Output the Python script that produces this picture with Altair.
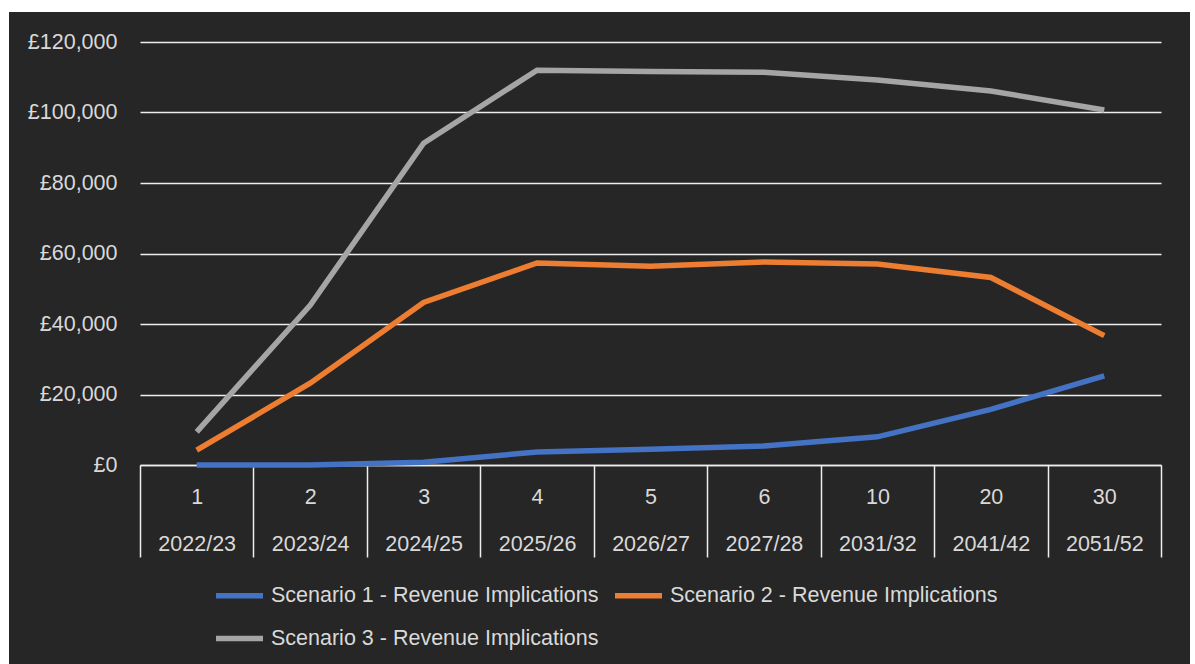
import altair as alt
import pandas as pd

periods = ["1", "2", "3", "4", "5", "6", "10", "20", "30"]
years = ["2022/23", "2023/24", "2024/25", "2025/26", "2026/27", "2027/28", "2031/32", "2041/42", "2051/52"]
series_names = [
    "Scenario 1 - Revenue Implications",
    "Scenario 2 - Revenue Implications",
    "Scenario 3 - Revenue Implications",
]
s1 = [0, 0, 800, 3700, 4500, 5400, 8000, 15800, 25300]
s2 = [4200, 23200, 46100, 57300, 56400, 57600, 57000, 53200, 36700]
s3 = [9400, 45300, 91300, 112000, 111600, 111400, 109200, 106100, 100700]
colors = ["#4472C4", "#ED7D31", "#A5A5A5"]
y_ticks = [0, 20000, 40000, 60000, 80000, 100000, 120000]

cats = [f"{p}|{y}" for p, y in zip(periods, years)]
rows = []
for name, vals in zip(series_names, [s1, s2, s3]):
    for c, v in zip(cats, vals):
        rows.append({"cat": c, "series": name, "value": v})
df = pd.DataFrame(rows)

W, H = 1021, 423
PL, PT, PR, PB = 140, 42, 34, 199
TXT = "#d9d9d9"
LINEC = "#eeeeee"
FS = 21.5

lines = alt.Chart(df).mark_line(strokeWidth=5.5).encode(
    x=alt.X(
        "cat:N",
        sort=cats,
        scale=alt.Scale(paddingInner=0, paddingOuter=0),
        axis=alt.Axis(
            title=None,
            labelAngle=0,
            labelExpr="split(datum.label, '|')",
            labelLineHeight=47,
            tickBand="extent",
            tickSize=92,
            tickColor=LINEC,
            tickWidth=1.5,
            domainColor=LINEC,
            domainWidth=1.5,
            labelPadding=-71,
            labelFontSize=FS,
            labelColor=TXT,
            grid=False,
        ),
    ),
    y=alt.Y(
        "value:Q",
        scale=alt.Scale(domain=[0, 120000], nice=False),
        axis=alt.Axis(
            title=None,
            values=y_ticks,
            labelExpr="'£' + format(datum.value, ',')",
            domain=False,
            ticks=False,
            labelPadding=23,
            labelFontSize=FS,
            labelColor=TXT,
            grid=True,
            gridColor=LINEC,
            gridWidth=1.5,
        ),
    ),
    color=alt.Color(
        "series:N",
        scale=alt.Scale(domain=series_names, range=colors),
        legend=alt.Legend(
            title=None,
            orient="none",
            legendX=73,
            legendY=527,
            direction="horizontal",
            columns=2,
            symbolType="stroke",
            symbolSize=2209,
            symbolStrokeWidth=5.5,
            labelFontSize=FS,
            labelColor=TXT,
            labelOffset=5,
            labelLimit=0,
            columnPadding=5,
            rowPadding=5,
        ),
    ),
)

one = pd.DataFrame({"a": [0]})
top_strip = alt.Chart(one).mark_rect(color="white").encode(
    x=alt.value(-PL), x2=alt.value(W + PR), y=alt.value(-PT), y2=alt.value(-30)
)
left_strip = alt.Chart(one).mark_rect(color="white").encode(
    x=alt.value(-PL), x2=alt.value(-131), y=alt.value(-PT), y2=alt.value(H + PB)
)
right_strip = alt.Chart(one).mark_rect(color="white").encode(
    x=alt.value(1050), x2=alt.value(W + PR), y=alt.value(-PT), y2=alt.value(H + PB)
)

chart = (
    alt.layer(lines, top_strip, left_strip, right_strip)
    .properties(
        width=W,
        height=H,
        autosize=alt.AutoSizeParams(type="none"),
        padding={"left": PL, "top": PT, "right": PR, "bottom": PB},
        background="#262626",
    )
    .configure(font="Liberation Sans")
    .configure_view(stroke=None)
)

chart.save("out.html", embed_options={"renderer": "svg", "actions": False})
